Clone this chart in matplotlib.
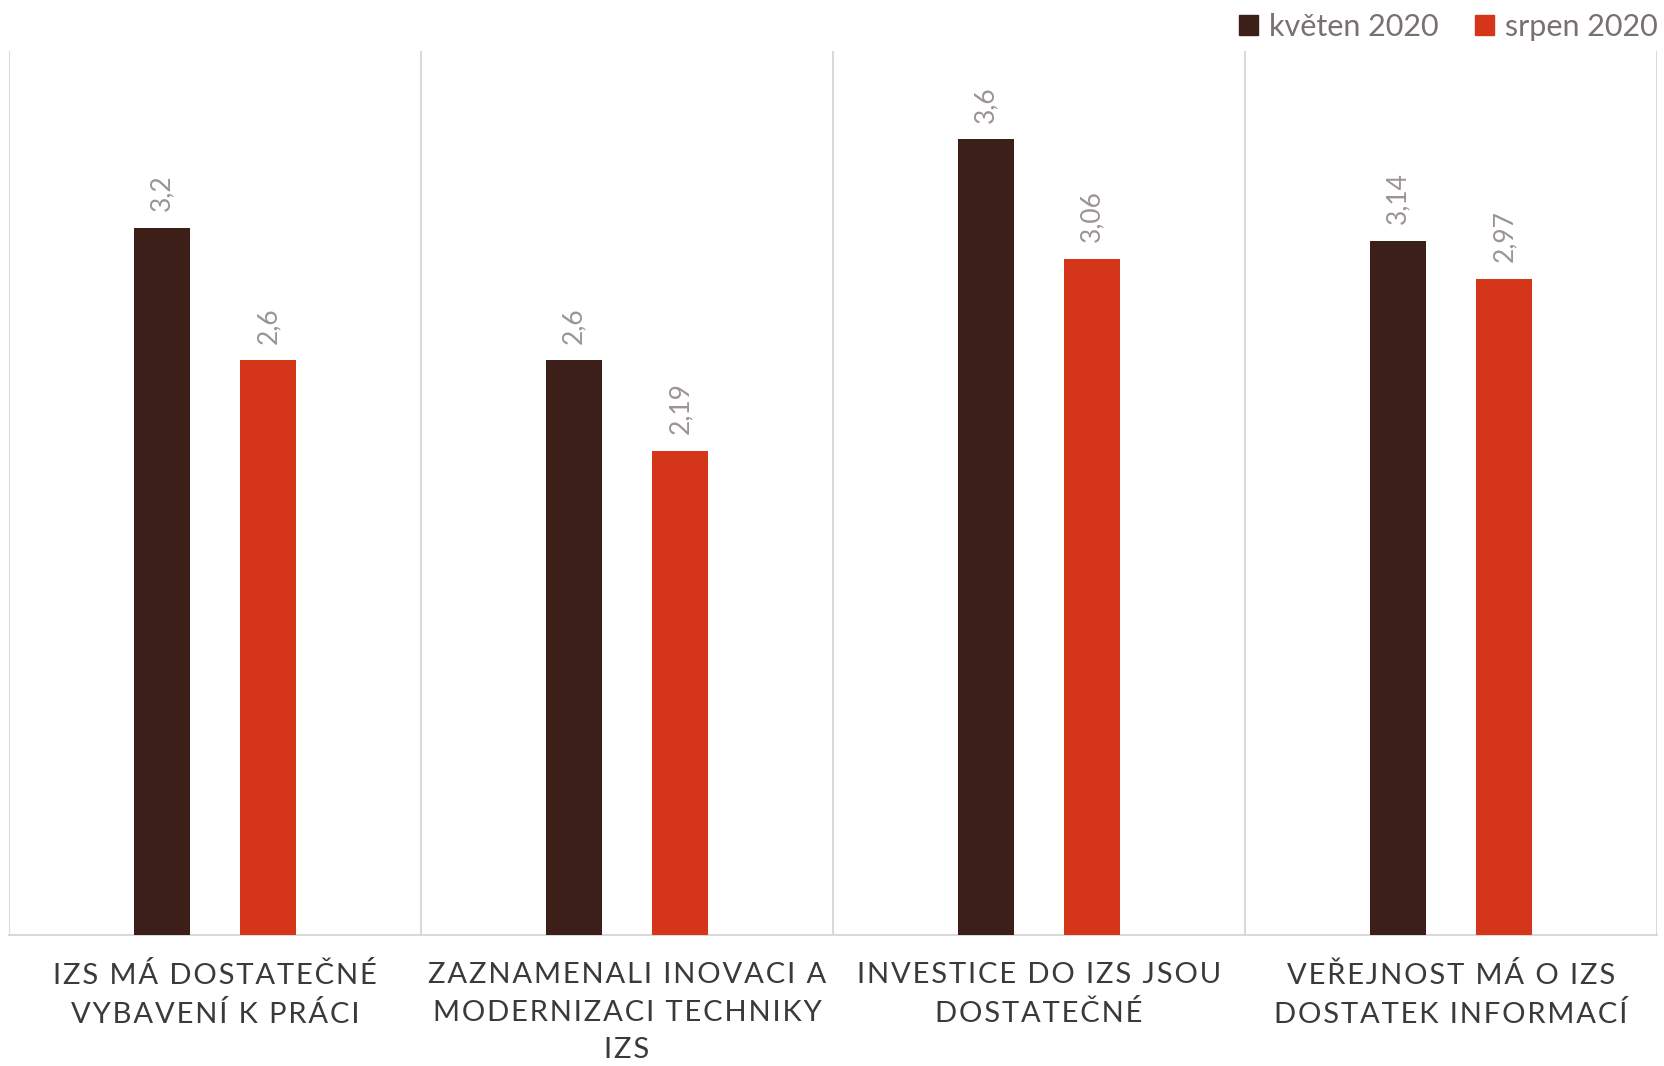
import matplotlib
matplotlib.use('Agg')
import matplotlib.pyplot as plt
import numpy as np
from matplotlib.patches import Patch

categories = [
    'IZS MÁ DOSTATEČNÉ\nVYBAVENÍ K PRÁCI',
    'ZAZNAMENALI INOVACI A\nMODERNIZACI TECHNIKY\nIZS',
    'INVESTICE DO IZS JSOU\nDOSTATEČNÉ',
    'VEŘEJNOST MÁ O IZS\nDOSTATEK INFORMACÍ',
]
series_names = ['květen 2020', 'srpen 2020']
kveten = [3.2, 2.6, 3.6, 3.14]
srpen = [2.6, 2.19, 3.06, 2.97]

colors = ['#3d1f1a', '#d5361a']
FONT = ['Lato', 'DejaVu Sans']


def spaced(s):
    # fake letter spacing with hair spaces
    return '\n'.join('\u200a'.join(line) for line in s.split('\n'))


fig = plt.figure(figsize=(16.65, 10.66), dpi=100)
ax = fig.add_axes([9 / 1665, 131.5 / 1066, 1648 / 1665, 883.5 / 1066])

x = np.arange(len(categories))
w = 0.136
off = 0.129
for vals, c, d in [(kveten, colors[0], -off), (srpen, colors[1], off)]:
    bars = ax.bar(x + d, vals, width=w, color=c, zorder=3)
    for b, v in zip(bars, vals):
        ax.annotate(str(v).replace('.', ','), (b.get_x() + b.get_width() / 2, v),
                    xytext=(0, 12), textcoords='offset points', rotation=90,
                    ha='center', va='bottom', fontsize=19, color='#9c9494',
                    family=FONT)

for xv in np.arange(-0.5, len(categories), 1.0):
    ax.axvline(xv, color='#d9d9d9', lw=1.5, zorder=1)

ax.set_xlim(-0.5, len(categories) - 0.5)
ax.set_ylim(0, 4)
ax.set_yticks([])
ax.set_xticks(x)
ax.set_xticklabels([spaced(c) for c in categories], family=FONT, fontsize=21,
                   color='#3a3a3a', linespacing=1.55)
ax.tick_params(axis='x', length=0, pad=20)
for s in ['top', 'left', 'right']:
    ax.spines[s].set_visible(False)
ax.spines['bottom'].set_color('#d9d9d9')
ax.spines['bottom'].set_linewidth(1.5)

handles = [Patch(color=c, label=n) for c, n in zip(colors, series_names)]
leg = fig.legend(handles=handles, loc='upper right', bbox_to_anchor=(1.012, 1.014),
                 ncol=2, frameon=False, prop={'family': FONT, 'size': 22},
                 handlelength=0.62, handleheight=0.62, handletextpad=0.35,
                 columnspacing=1.2, labelcolor='#7a7070')

fig.savefig('out.png', dpi=100)
